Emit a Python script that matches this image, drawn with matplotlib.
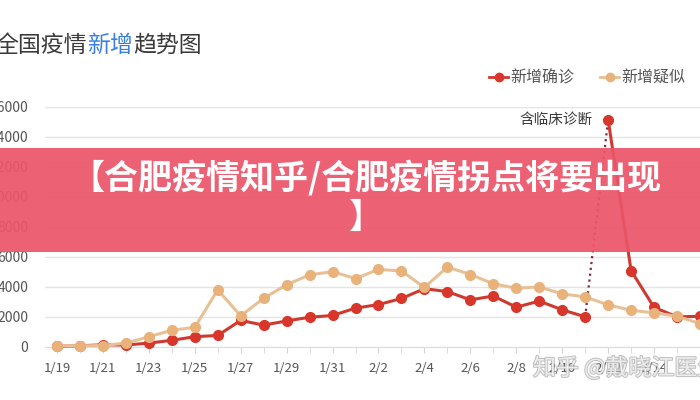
import matplotlib
matplotlib.use('Agg')
import matplotlib.pyplot as plt
import matplotlib.patheffects as pe
from matplotlib.patches import Rectangle
from matplotlib.lines import Line2D
import numpy as np

plt.rcParams['font.family'] = ['Noto Sans CJK SC', 'DejaVu Sans']

# data
dates = ['1/19', '1/20', '1/21', '1/22', '1/23', '1/24', '1/25', '1/26', '1/27',
         '1/28', '1/29', '1/30', '1/31', '2/1', '2/2', '2/3', '2/4', '2/5', '2/6',
         '2/7', '2/8', '2/9', '2/10', '2/11', '2/12', '2/13', '2/14', '2/15', '2/16']
confirmed = [50, 77, 149, 131, 259, 444, 688, 769, 1771, 1459, 1737, 1982, 2102,
             2590, 2829, 3235, 3887, 3694, 3143, 3399, 2656, 3062, 2478, 2015,
             15152, 5090, 2641, 2009, 2048]
suspected = [80, 80, 100, 257, 680, 1118, 1309, 3806, 2077, 3248, 4148, 4812, 5019,
             4562, 5173, 5072, 3971, 5328, 4833, 4214, 3916, 4008, 3536, 3342,
             2807, 2450, 2277, 2050, 1563]
spike = dates.index('2/12')  # clinical diagnosis included from here

# palette
_RED_LINE = '#cf3a30'
_RED_DOT  = '#d8362b'
_TAN_LINE = '#e8c096'
_TAN_DOT  = '#e9b27a'
_DOTTED   = '#7e2d3d'
_GRID     = '#e4e4e4'
_TEXT     = '#3a3a3a'
_TEXT_DIM = '#555555'
_BLUE     = '#3a7ee0'

W, H = 700, 400
fig = plt.figure(figsize=(W / 100, H / 100), dpi=100)
fig.patch.set_facecolor('white')
ax = fig.add_axes([45 / W, 1 - 347 / H, 655 / W, 240 / H])

x = np.arange(len(dates))
line_kw = dict(lw=2.2, marker='o', ms=7, clip_on=False)
ax.plot(x[:spike], confirmed[:spike], color=_RED_LINE, mfc=_RED_DOT, mec=_RED_DOT,
        zorder=3, **line_kw)
ax.plot(x[spike - 1:spike + 1], confirmed[spike - 1:spike + 1], color=_DOTTED,
        ls=':', lw=1.6, zorder=2)
ax.plot(x[spike:], confirmed[spike:], color=_RED_LINE, mfc=_RED_DOT, mec=_RED_DOT,
        zorder=3, **line_kw)
ax.plot(x, suspected, color=_TAN_LINE, mfc=_TAN_DOT, mec=_TAN_DOT, zorder=4, **line_kw)

ax.annotate('含临床诊断', xy=(x[spike], confirmed[spike]), xytext=(-11, 0),
            textcoords='offset points', ha='right', va='center',
            fontsize=10.5, color=_TEXT)

ax.set_xlim(-0.52, 27.96)
ax.set_ylim(0, 16000)
ax.set_yticks(range(0, 16001, 2000))
ax.set_xticks(x[:-1:2])
ax.set_xticklabels(dates[:-1:2])
ax.set_xticks(x, minor=True)
ax.grid(axis='y', color=_GRID, lw=1, zorder=0)
ax.set_axisbelow(True)
for side in ('top', 'right', 'left'):
    ax.spines[side].set_visible(False)
ax.spines['bottom'].set_color('#dddddd')
ax.tick_params(axis='x', which='both', length=4, color='#d5d5d5',
               labelsize=9.5, labelcolor=_TEXT_DIM, pad=7)
ax.tick_params(axis='y', length=0, labelsize=10, labelcolor=_TEXT_DIM, pad=12)

handles = [
    Line2D([], [], color=_RED_LINE, marker='o', ms=6, mfc=_RED_DOT, mec=_RED_DOT, lw=2),
    Line2D([], [], color=_TAN_LINE, marker='o', ms=6, mfc=_TAN_DOT, mec=_TAN_DOT, lw=2),
]
ax.legend(handles, ['新增确诊', '新增疑似'], loc='center right',
          bbox_to_anchor=(700 / W, 1 - 78 / H), bbox_transform=fig.transFigure,
          ncol=2, frameon=False, fontsize=11.5, labelcolor=_TEXT_DIM,
          handlelength=1.2, handletextpad=0.15, columnspacing=1.6)

# title, "新增" in blue
ty = 1 - 45 / H
fig.text(-5 / W, ty, '全国疫情', fontsize=16.5, color=_TEXT, va='center')
fig.text(87 / W, ty, '新增', fontsize=16.5, color=_BLUE, va='center')
fig.text(133 / W, ty, '趋势图', fontsize=16.5, color=_TEXT, va='center')

# watermark
fig.text(533 / W, 1 - 368 / H, '知乎 @戴晓江医生', fontsize=16.5, color='white',
         va='center', zorder=12, alpha=0.75,
         path_effects=[pe.withStroke(linewidth=1.4, foreground='#a9a9a9')])

# headline banner
fig.add_artist(Rectangle((0, 1 - 252 / H), 1, 104 / H, transform=fig.transFigure,
                         facecolor='#eb5569', edgecolor='none', alpha=0.93, zorder=10))
fig.text(0.523, 1 - 197 / H, '【合肥疫情知乎/合肥疫情拐点将要出现\n】',
         ha='center', va='center', fontsize=24.5, fontweight='heavy', color='white',
         linespacing=1.15, zorder=11)

fig.savefig('out.png', dpi=100, facecolor='white')
